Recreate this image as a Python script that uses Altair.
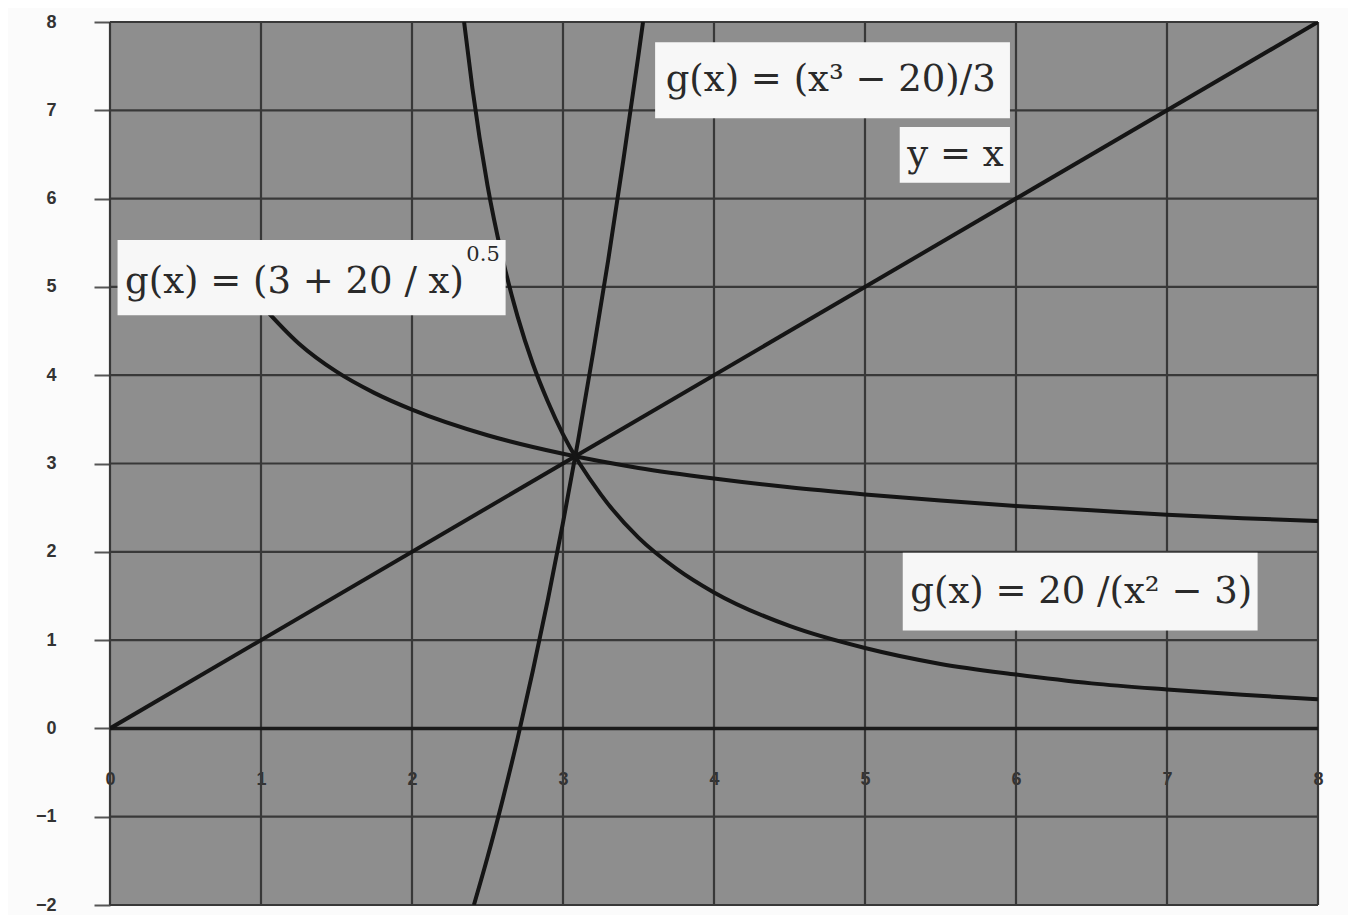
import altair as alt
import pandas as pd

# axis ticks
x_ticks = [0, 1, 2, 3, 4, 5, 6, 7, 8]
y_ticks = [-2, -1, 0, 1, 2, 3, 4, 5, 6, 7, 8]

# y = x
line_x = [0, 8]
line_y = [0, 8]

# g(x) = (x^3 - 20)/3
cube_x = [2.41, 2.5, 2.6, 2.7, 2.8, 2.9, 3.0, 3.1, 3.2, 3.3, 3.4, 3.5, 3.53]
cube_y = [-2.0, -1.46, -0.81, -0.11, 0.65, 1.46, 2.33, 3.26, 4.26, 5.31, 6.44, 7.63, 8.0]

# g(x) = (3 + 20/x)^0.5
root_x = [1.0, 1.25, 1.5, 1.75, 2.0, 2.5, 3.0, 3.5, 4.0, 4.5, 5.0, 5.5, 6.0, 6.5, 7.0, 7.5, 8.0]
root_y = [4.80, 4.36, 4.04, 3.80, 3.61, 3.32, 3.11, 2.95, 2.83, 2.73, 2.65, 2.58, 2.52, 2.47, 2.42, 2.38, 2.35]

# g(x) = 20/(x^2 - 3)
recip_x = [2.345, 2.4, 2.5, 2.6, 2.7, 2.8, 2.9, 3.0, 3.25, 3.5, 3.75, 4.0, 4.5, 5.0, 5.5, 6.0, 6.5, 7.0, 7.5, 8.0]
recip_y = [8.0, 7.25, 6.15, 5.32, 4.66, 4.13, 3.70, 3.33, 2.65, 2.16, 1.81, 1.54, 1.16, 0.91, 0.73, 0.61, 0.51, 0.44, 0.38, 0.33]

# labels
label_text = ["g(x) = (x³ − 20)/3", "y = x", "g(x) = (3 + 20 / x)", "g(x) = 20 /(x² − 3)"]
label_x = [3.68, 5.28, 0.10, 5.30]
label_y = [7.34, 6.49, 5.06, 1.55]
box_x1 = [3.61, 5.23, 0.05, 5.25]
box_x2 = [5.96, 5.96, 2.62, 7.60]
box_y1 = [6.91, 6.18, 4.68, 1.11]
box_y2 = [7.77, 6.81, 5.53, 1.99]

# exponent of the third label
sup_text = ["0.5"]
sup_x = [2.36]
sup_y = [5.36]

rows = []
for name, xs, ys in [("y=x", line_x, line_y), ("cube", cube_x, cube_y),
                     ("root", root_x, root_y), ("recip", recip_x, recip_y)]:
    for i, (a, b) in enumerate(zip(xs, ys)):
        rows.append({"series": name, "x": a, "y": b, "order": i})
curves = pd.DataFrame(rows)

xscale = alt.Scale(domain=[0, 8], nice=False, zero=False)
yscale = alt.Scale(domain=[-2, 8], nice=False, zero=False)

vgrid = alt.Chart(pd.DataFrame({"x": x_ticks})).mark_rule(color="#383838", strokeWidth=2.2).encode(
    x=alt.X("x:Q", scale=xscale)
)
hgrid = alt.Chart(pd.DataFrame({"y": y_ticks})).mark_rule(color="#383838", strokeWidth=2.2).encode(
    y=alt.Y("y:Q", scale=yscale)
)
zero_line = alt.Chart(pd.DataFrame({"y": [0]})).mark_rule(color="#1a1a1a", strokeWidth=3.5).encode(
    y=alt.Y("y:Q", scale=yscale)
)

lines = alt.Chart(curves).mark_line(color="#151515", strokeWidth=4, clip=True,
                                    interpolate="monotone").encode(
    x=alt.X("x:Q", scale=xscale,
            axis=alt.Axis(values=x_ticks, orient="bottom", offset=-177, domain=False, ticks=False,
                          grid=False, labelPadding=42, labelFontSize=18, labelFontWeight="bold",
                          labelColor="#333333", labelFont="Liberation Sans", title=None,
                          labelFlush=False, format="d")),
    y=alt.Y("y:Q", scale=yscale,
            axis=alt.Axis(values=y_ticks, domain=False, ticks=True, tickSize=16, tickColor="#555555",
                          tickWidth=2, grid=False, labelPadding=38, labelFontSize=18,
                          labelFontWeight="bold", labelColor="#333333", labelFont="Liberation Sans",
                          title=None, labelFlush=False, format="d")),
    detail="series:N",
    order="order:Q",
)

labels = pd.DataFrame({"text": label_text, "x": label_x, "y": label_y,
                       "x1": box_x1, "x2": box_x2, "y1": box_y1, "y2": box_y2})

boxes = alt.Chart(labels).mark_rect(color="#f7f7f7").encode(
    x=alt.X("x1:Q", scale=xscale), x2="x2:Q",
    y=alt.Y("y1:Q", scale=yscale), y2="y2:Q",
)
texts = alt.Chart(labels).mark_text(align="left", baseline="middle", font="DejaVu Serif",
                                    fontSize=37, color="#2a2a2a").encode(
    x=alt.X("x:Q", scale=xscale), y=alt.Y("y:Q", scale=yscale), text="text:N"
)
sup = alt.Chart(pd.DataFrame({"text": sup_text, "x": sup_x, "y": sup_y})).mark_text(
    align="left", baseline="middle", font="DejaVu Serif", fontSize=21, color="#2a2a2a").encode(
    x=alt.X("x:Q", scale=xscale), y=alt.Y("y:Q", scale=yscale), text="text:N"
)

chart = alt.layer(vgrid, hgrid, zero_line, lines, boxes, texts, sup).properties(
    width=1208, height=883,
    autosize=alt.AutoSizeParams(type="none"),
    padding={"left": 102, "top": 14, "right": 30, "bottom": 10},
    background="#fbfbfb",
).configure_view(fill="#8e8e8e", stroke=None)

chart.save("out.html", embed_options={"renderer": "svg", "actions": False})
